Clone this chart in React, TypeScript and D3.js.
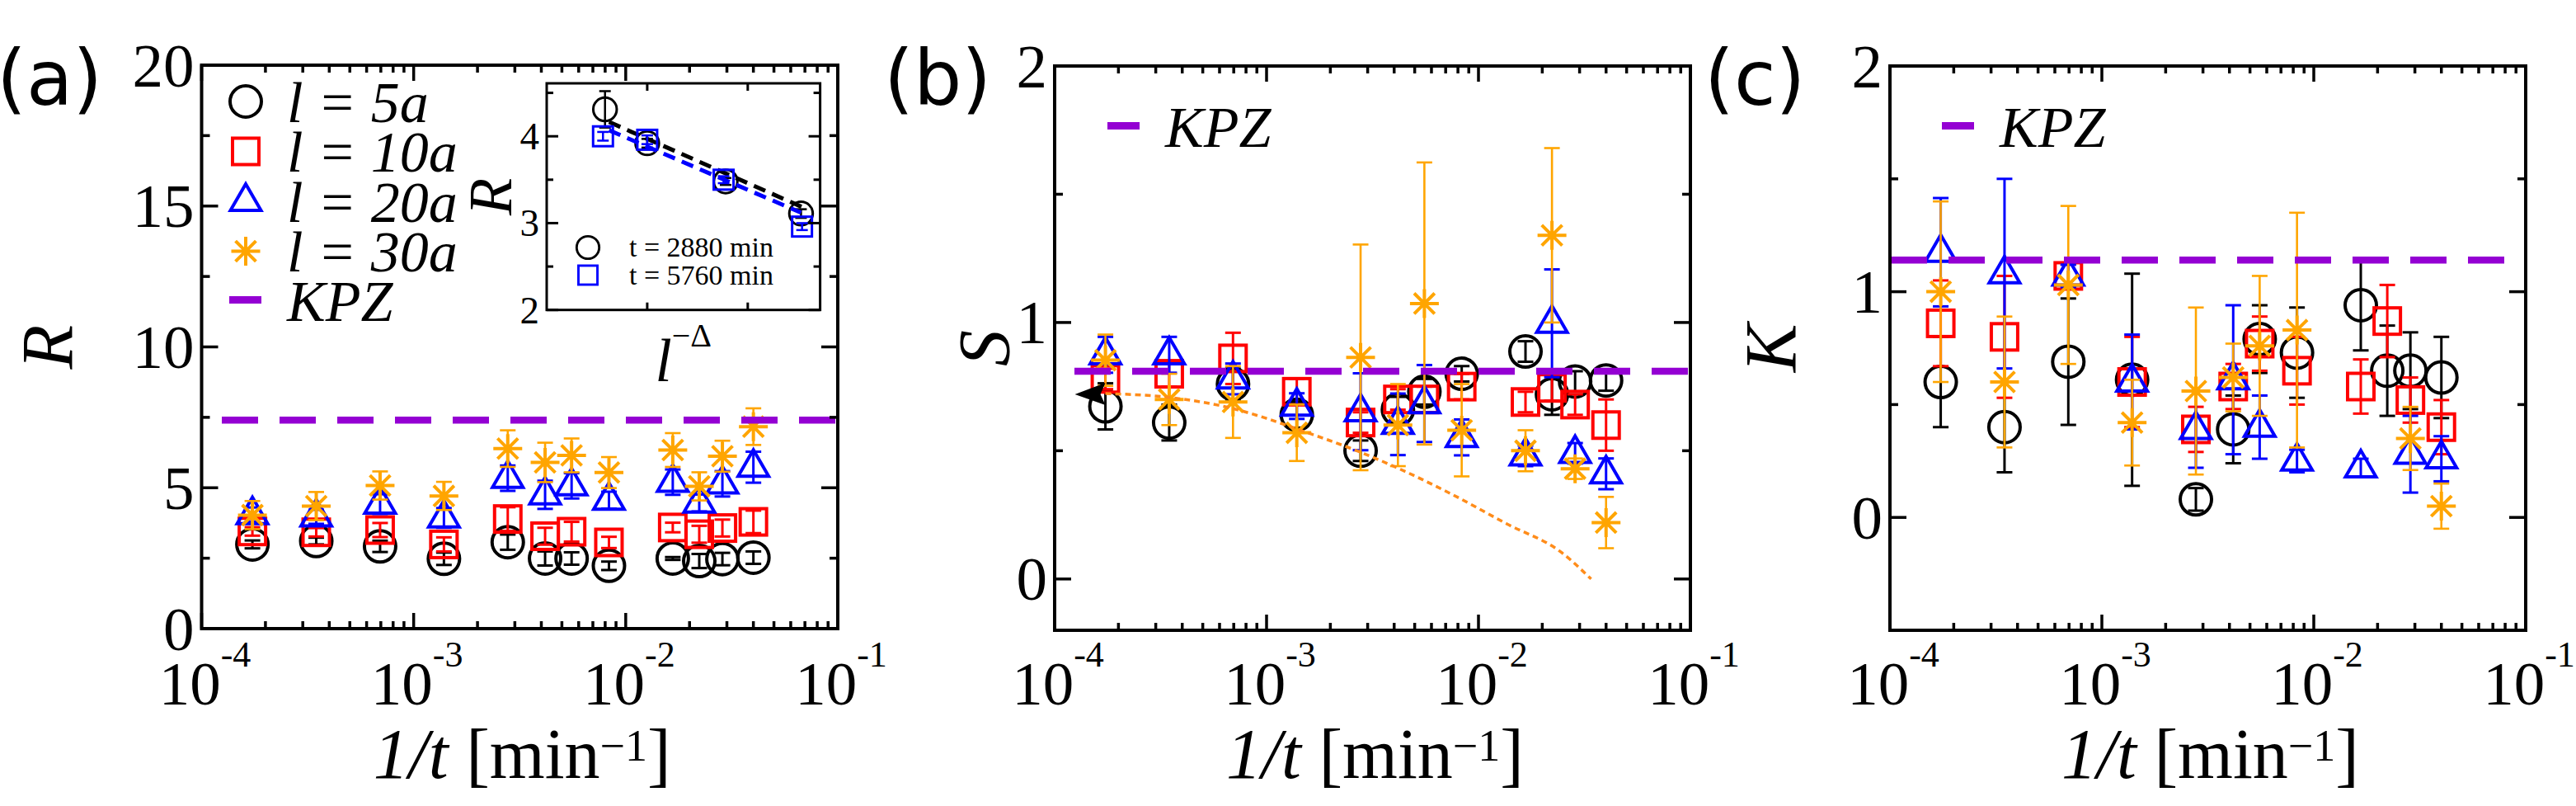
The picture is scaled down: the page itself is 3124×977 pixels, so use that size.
import React from 'react';
import * as d3 from 'd3';

const W = 3124;
const H = 977;
const SERIF = '"Liberation Serif", "Times New Roman", serif';
const SANS = '"DejaVu Sans", "Liberation Sans", sans-serif';

// acquisition times in minutes, plotted as 1/t
const times = [5760, 2880, 1440, 720, 360, 240, 180, 120, 60, 45, 35, 25];

// (a) amplitude ratio R
const rL5 = [2.99, 3.11, 2.92, 2.48, 3.07, 2.49, 2.49, 2.23, 2.49, 2.4, 2.47, 2.52];
const rL5Err = [0.14, 0.12, 0.2, 0.22, 0.27, 0.25, 0.22, 0.15, 0.05, 0.25, 0.22, 0.22];
const rL10 = [3.45, 3.42, 3.5, 2.99, 3.89, 3.28, 3.44, 3.06, 3.59, 3.35, 3.57, 3.79];
const rL10Err = [0.15, 0.15, 0.25, 0.25, 0.42, 0.3, 0.35, 0.2, 0.17, 0.3, 0.3, 0.4];
const rL20 = [4.05, 3.97, 4.42, 3.93, 5.34, 4.75, 5.07, 4.56, 5.2, 4.46, 5.14, 5.73];
const rL20Err = [0.25, 0.25, 0.35, 0.35, 0.45, 0.5, 0.45, 0.3, 0.45, 0.3, 0.45, 0.55];
const rL30 = [4.03, 4.35, 5.08, 4.71, 6.39, 5.9, 6.15, 5.54, 6.34, 5.05, 6.12, 7.17];
const rL30Err = [0.5, 0.5, 0.5, 0.5, 0.65, 0.7, 0.6, 0.55, 0.6, 0.5, 0.55, 0.65];

// (b) skewness S
const sL5 = [0.673, 0.61, 0.76, 0.64, 0.5, 0.66, 0.73, 0.8, 0.887, 0.72, 0.77, 0.774];
const sL5Err = [0.09, 0.07, 0.06, 0.05, 0.04, 0.05, 0.05, 0.03, 0.04, 0.08, 0.04, 0.04];
const sL10 = [0.78, 0.8, 0.86, 0.73, 0.61, 0.7, 0.7, 0.75, 0.69, 0.745, 0.68, 0.6];
const sL10Err = [0.04, 0.05, 0.1, 0.05, 0.04, 0.04, 0.05, 0.05, 0.04, 0.05, 0.04, 0.1];
const sL20 = [0.874, 0.874, 0.78, 0.674, 0.652, 0.603, 0.684, 0.552, 0.48, 0.997, 0.49, 0.41];
const sL20Err = [0.07, 0.07, 0.06, 0.05, 0.15, 0.12, 0.15, 0.07, 0.04, 0.21, 0.04, 0.06];
const sL30 = [0.853, 0.7, 0.69, 0.57, 0.864, 0.6, 1.074, 0.58, 0.5, 1.34, 0.43, 0.22];
const sL30Err = [0.1, 0.1, 0.14, 0.11, 0.44, 0.16, 0.55, 0.18, 0.08, 0.34, 0.04, 0.1];

// (c) kurtosis K
const kL5 = [0.6, 0.4, 0.69, 0.61, 0.08, 0.39, 0.79, 0.73, 0.94, 0.65, 0.65, 0.62];
const kL5Err = [0.2, 0.2, 0.28, 0.47, 0.05, 0.15, 0.15, 0.2, 0.2, 0.2, 0.17, 0.18];
const kL10 = [0.86, 0.8, 1.07, 0.6, 0.39, 0.58, 0.77, 0.65, 0.58, 0.87, 0.52, 0.4];
const kL10Err = [0.19, 0.27, 0.05, 0.2, 0.1, 0.1, 0.12, 0.15, 0.12, 0.16, 0.1, 0.12];
const kL20 = [1.175, 1.08, 1.07, 0.6, 0.39, 0.61, 0.4, 0.25, 0.22, null, 0.28, 0.26];
const kL20Err = [0.24, 0.42, 0.05, 0.21, 0.17, 0.33, 0.14, 0.05, 0.04, 0, 0.17, 0.1];
const kL30 = [1.0, 0.6, 1.03, 0.42, 0.56, 0.62, 0.76, 0.83, null, null, 0.35, 0.05];
const kL30Err = [0.4, 0.29, 0.35, 0.19, 0.37, 0.15, 0.31, 0.52, 0, 0, 0.14, 0.1];

// KPZ reference values
const kpzR = 7.4;
const kpzS = 0.81;
const kpzK = 1.14;

// orange guide curve in (b)
const guideInvT = [1.736e-4, 3.47e-4, 6.9e-4, 1.0e-3, 1.39e-3, 2.78e-3, 4.17e-3, 7.5e-3, 1.36e-2, 2.45e-2, 3.4e-2];
const guideS = [0.723, 0.708, 0.665, 0.626, 0.585, 0.494, 0.432, 0.33, 0.215, 0.105, 0.0];

// inset of (a): R vs l^-Delta
const insetX2880 = [0.158, 0.2, 0.278, 0.353];
const insetR2880 = [4.31, 3.92, 3.48, 3.11];
const insetErr2880 = [0.21, 0.05, 0.04, 0.05];
const insetX5760 = [0.156, 0.2, 0.276, 0.354];
const insetR5760 = [4.0, 3.96, 3.5, 2.96];
const insetErr5760 = [0.05, 0.05, 0.04, 0.04];
const fitX2880 = [0.162, 0.359];
const fitR2880 = [4.165, 3.16];
const fitX5760 = [0.162, 0.353];
const fitR5760 = [4.07, 3.12];

const legendLabels = ['l = 5a', 'l = 10a', 'l = 20a', 'l = 30a'];
const insetLegend = ['t = 2880 min', 't = 5760 min'];

const colors = ['#000000', '#ff0000', '#0000ff', '#ffa500'];
const symbols = ['circle', 'square', 'triangle', 'star'];
const KPZ_COLOR = '#9400d3';

function Symbol({ sym, cx, cy, color, s = 1 }: any) {
  const sw = 4 * s;
  if (sym === 'circle') {
    return <circle cx={cx} cy={cy} r={19 * s} fill="none" stroke={color} strokeWidth={sw} />;
  }
  if (sym === 'square') {
    const h = 16 * s;
    return <rect x={cx - h} y={cy - h} width={2 * h} height={2 * h} fill="none" stroke={color} strokeWidth={sw} />;
  }
  if (sym === 'triangle') {
    const d = `M${cx},${cy - 21 * s}L${cx + 18.5 * s},${cy + 11 * s}L${cx - 18.5 * s},${cy + 11 * s}Z`;
    return <path d={d} fill="none" stroke={color} strokeWidth={sw} />;
  }
  const a = 17.5 * s;
  const b = 12.4 * s;
  const d = `M${cx - a},${cy}H${cx + a}M${cx},${cy - a}V${cy + a}M${cx - b},${cy - b}L${cx + b},${cy + b}M${cx - b},${cy + b}L${cx + b},${cy - b}`;
  return <path d={d} fill="none" stroke={color} strokeWidth={sw} />;
}

function ErrBar({ cx, y0, y1, color, sw = 3, cap = 19 }: any) {
  return (
    <g stroke={color} strokeWidth={sw}>
      <line x1={cx} x2={cx} y1={y0} y2={y1} />
      <line x1={cx - cap / 2} x2={cx + cap / 2} y1={y0} y2={y0} />
      <line x1={cx - cap / 2} x2={cx + cap / 2} y1={y1} y2={y1} />
    </g>
  );
}

function Panel({ cfg }: any) {
  const x = d3.scaleLog().domain([1e-4, 1e-1]).range([cfg.left, cfg.right]);
  const y = d3.scaleLinear().domain(cfg.yDomain).range([cfg.bottom, cfg.top]);
  const xt = x.ticks();
  const isDecade = (v: number) => Math.abs(Math.log10(v) - Math.round(Math.log10(v))) < 1e-6;
  const cxMid = (cfg.left + cfg.right) / 2;
  const cyMid = (cfg.top + cfg.bottom) / 2;
  const kpzY = y(cfg.kpz);

  let guide = null;
  if (cfg.guide) {
    const pts = cfg.guide.x.map((v: number, i: number) => [x(v), y(cfg.guide.y[i])]);
    const line = d3.line().curve(d3.curveMonotoneX);
    const [gx, gy] = pts[0];
    guide = (
      <g>
        <path d={line(pts as any) || ''} fill="none" stroke="#ff8c1a" strokeWidth={3.5} strokeDasharray="7 5" />
        <path d={`M${gx - 37},${gy + 1}L${gx},${gy - 13}L${gx - 6},${gy + 1}L${gx},${gy + 14}Z`} fill="#000" />
      </g>
    );
  }

  return (
    <g>
      {/* data */}
      {cfg.series.map((s: any, si: number) => (
        <g key={si}>
          {times.map((t, i) => {
            const v = s.values[i];
            if (v == null) return null;
            const cx = x(1 / t);
            const e = s.errs[i];
            return (
              <g key={i}>
                {e > 0 && (
                  <ErrBar cx={cx} y0={y(v - e)} y1={y(v + e)} color={colors[si]} sw={si === 3 ? 2.6 : 3} />
                )}
                <Symbol sym={symbols[si]} cx={cx} cy={y(v)} color={colors[si]} />
              </g>
            );
          })}
        </g>
      ))}
      {guide}
      {/* KPZ */}
      <line
        x1={cfg.left + cfg.kpzOffset}
        x2={cfg.right}
        y1={kpzY}
        y2={kpzY}
        stroke={KPZ_COLOR}
        strokeWidth={8.5}
        strokeDasharray="44 26"
      />
      {/* frame */}
      <rect
        x={cfg.left}
        y={cfg.top}
        width={cfg.right - cfg.left}
        height={cfg.bottom - cfg.top}
        fill="none"
        stroke="#000"
        strokeWidth={4}
      />
      {/* x ticks */}
      {xt.map((v, i) => {
        const px = x(v);
        const len = isDecade(v) ? 19 : 9;
        return (
          <g key={i} stroke="#000" strokeWidth={3.5}>
            <line x1={px} x2={px} y1={cfg.bottom} y2={cfg.bottom - len} />
            <line x1={px} x2={px} y1={cfg.top} y2={cfg.top + len} />
          </g>
        );
      })}
      {xt.filter(isDecade).map((v, i) => (
        <text key={i} x={x(v) + 4} y={854} textAnchor="middle" fontFamily={SERIF} fontSize={75}>
          10
          <tspan fontSize={44} dy={-46}>
            {String(Math.round(Math.log10(v)))}
          </tspan>
        </text>
      ))}
      {/* y ticks */}
      {cfg.yMajor.map((v: number, i: number) => (
        <g key={'M' + i}>
          <g stroke="#000" strokeWidth={3.5}>
            <line x1={cfg.left} x2={cfg.left + 20} y1={y(v)} y2={y(v)} />
            <line x1={cfg.right} x2={cfg.right - 20} y1={y(v)} y2={y(v)} />
          </g>
          <text x={cfg.left - 9} y={y(v) + 25.5} textAnchor="end" fontFamily={SERIF} fontSize={75}>
            {v}
          </text>
        </g>
      ))}
      {cfg.yMinor.map((v: number, i: number) => (
        <g key={'m' + i} stroke="#000" strokeWidth={3.5}>
          <line x1={cfg.left} x2={cfg.left + 10} y1={y(v)} y2={y(v)} />
          <line x1={cfg.right} x2={cfg.right - 10} y1={y(v)} y2={y(v)} />
        </g>
      ))}
      {/* axis titles */}
      <text x={cxMid + 3} y={943} textAnchor="middle" fontFamily={SERIF} fontSize={86}>
        <tspan fontStyle="italic">1/t</tspan> [min
        <tspan fontSize={54} dy={-21.5}>
          −1
        </tspan>
        <tspan dy={21.5}>]</tspan>
      </text>
      <text
        transform={`translate(${cfg.yLabelX},${cyMid}) rotate(-90)`}
        textAnchor="middle"
        fontFamily={SERIF}
        fontStyle="italic"
        fontSize={88}
      >
        {cfg.yLabel}
      </text>
      <text x={cfg.tagX} y={127} fontFamily={SANS} fontSize={92}>
        {cfg.tag}
      </text>
      {/* legend */}
      {cfg.fullLegend &&
        legendLabels.map((lab, i) => {
          const ry = 123 + i * 60.5;
          return (
            <g key={i}>
              <Symbol sym={symbols[i]} cx={cfg.left + 53.5} cy={ry} color={colors[i]} />
              <text x={cfg.left + 103.5} y={ry + 24.5} fontFamily={SERIF} fontStyle="italic" fontSize={70}>
                {lab}
              </text>
            </g>
          );
        })}
      <rect
        x={cfg.left + cfg.kpzLegendX}
        y={cfg.kpzLegendY - 4.5}
        width={39}
        height={9}
        fill={KPZ_COLOR}
      />
      <text
        x={cfg.left + cfg.kpzLegendX + 70}
        y={cfg.kpzLegendY + 25}
        fontFamily={SERIF}
        fontStyle="italic"
        fontSize={70}
      >
        KPZ
      </text>
    </g>
  );
}

function Inset() {
  const left = 663;
  const right = 994.6;
  const top = 101;
  const bottom = 375.7;
  const x = d3.scaleLinear().domain([0.1, 0.372]).range([left, right]);
  const y = d3.scaleLinear().domain([2, 4.61]).range([bottom, top]);
  const xTicks = [0.2, 0.3];
  const yMajor = [2, 3, 4];
  const yMinor = [2.5, 3.5, 4.5];
  const sets = [
    { xs: insetX2880, ys: insetR2880, es: insetErr2880, fx: fitX2880, fy: fitR2880, sym: 'circle', color: '#000000' },
    { xs: insetX5760, ys: insetR5760, es: insetErr5760, fx: fitX5760, fy: fitR5760, sym: 'square', color: '#0000ff' },
  ];
  return (
    <g>
      <rect x={left} y={top} width={right - left} height={bottom - top} fill="#fff" />
      {sets.map((s, si) => (
        <g key={si}>
          <line
            x1={x(s.fx[0])}
            y1={y(s.fy[0])}
            x2={x(s.fx[1])}
            y2={y(s.fy[1])}
            stroke={s.color}
            strokeWidth={5}
            strokeDasharray="15 9"
          />
          {s.xs.map((v, i) => (
            <g key={i}>
              <ErrBar cx={x(v)} y0={y(s.ys[i] - s.es[i])} y1={y(s.ys[i] + s.es[i])} color={s.color} sw={2.5} cap={14} />
              <Symbol sym={s.sym} cx={x(v)} cy={y(s.ys[i])} color={s.color} s={0.75} />
            </g>
          ))}
        </g>
      ))}
      <rect x={left} y={top} width={right - left} height={bottom - top} fill="none" stroke="#000" strokeWidth={3} />
      {xTicks.map((v, i) => (
        <g key={i} stroke="#000" strokeWidth={3}>
          <line x1={x(v)} x2={x(v)} y1={bottom} y2={bottom - 9} />
          <line x1={x(v)} x2={x(v)} y1={top} y2={top + 9} />
        </g>
      ))}
      {yMajor.map((v, i) => (
        <g key={i}>
          <g stroke="#000" strokeWidth={3}>
            <line x1={left} x2={left + 14} y1={y(v)} y2={y(v)} />
            <line x1={right} x2={right - 14} y1={y(v)} y2={y(v)} />
          </g>
          <text x={left - 9} y={y(v) + 16} textAnchor="end" fontFamily={SERIF} fontSize={47}>
            {v}
          </text>
        </g>
      ))}
      {yMinor.map((v, i) => (
        <g key={i} stroke="#000" strokeWidth={3}>
          <line x1={left} x2={left + 8} y1={y(v)} y2={y(v)} />
          <line x1={right} x2={right - 8} y1={y(v)} y2={y(v)} />
        </g>
      ))}
      <text
        transform={`translate(620,${(top + bottom) / 2}) rotate(-90)`}
        textAnchor="middle"
        fontFamily={SERIF}
        fontStyle="italic"
        fontSize={74}
      >
        R
      </text>
      <text x={(left + right) / 2} y={462} textAnchor="middle" fontFamily={SERIF} fontSize={73}>
        <tspan fontStyle="italic">l</tspan>
        <tspan fontSize={40} dy={-42}>
          −Δ
        </tspan>
      </text>
      {insetLegend.map((lab, i) => (
        <g key={i}>
          <Symbol sym={sets[i].sym} cx={713} cy={300 + i * 33.5} color={sets[i].color} s={0.72} />
          <text x={763} y={311 + i * 33.5} fontFamily={SERIF} fontSize={34}>
            {lab}
          </text>
        </g>
      ))}
    </g>
  );
}

const panels = [
  {
    tag: '(a)', tagX: -4, left: 244.5, right: 1016, top: 79, bottom: 762,
    yDomain: [0, 20], yMajor: [0, 5, 10, 15, 20], yMinor: [2.5, 7.5, 12.5, 17.5],
    yLabel: 'R', yLabelX: 87, kpz: kpzR, kpzOffset: 24.5, fullLegend: true,
    kpzLegendX: 33.5, kpzLegendY: 363.5,
    series: [
      { values: rL5, errs: rL5Err },
      { values: rL10, errs: rL10Err },
      { values: rL20, errs: rL20Err },
      { values: rL30, errs: rL30Err },
    ],
  },
  {
    tag: '(b)', tagX: 1072, left: 1279, right: 2050, top: 80, bottom: 764,
    yDomain: [-0.2, 2], yMajor: [0, 1, 2], yMinor: [0.5, 1.5],
    yLabel: 'S', yLabelX: 1223, kpz: kpzS, kpzOffset: 24, fullLegend: false,
    kpzLegendX: 64, kpzLegendY: 152.5,
    guide: { x: guideInvT, y: guideS },
    series: [
      { values: sL5, errs: sL5Err },
      { values: sL10, errs: sL10Err },
      { values: sL20, errs: sL20Err },
      { values: sL30, errs: sL30Err },
    ],
  },
  {
    tag: '(c)', tagX: 2067, left: 2292, right: 3063, top: 80, bottom: 764,
    yDomain: [-0.5, 2], yMajor: [0, 1, 2], yMinor: [0.5, 1.5],
    yLabel: 'K', yLabelX: 2177, kpz: kpzK, kpzOffset: 1, fullLegend: false,
    kpzLegendX: 63, kpzLegendY: 152.5,
    series: [
      { values: kL5, errs: kL5Err },
      { values: kL10, errs: kL10Err },
      { values: kL20, errs: kL20Err },
      { values: kL30, errs: kL30Err },
    ],
  },
];

export default function App() {
  return (
    <>
      <style>{'body{margin:0;}'}</style>
      <svg width={W} height={H} viewBox={`0 0 ${W} ${H}`} style={{ display: 'block', background: '#fff' }}>
        {panels.map((p, i) => (
          <Panel key={i} cfg={p} />
        ))}
        <Inset />
      </svg>
    </>
  );
}
